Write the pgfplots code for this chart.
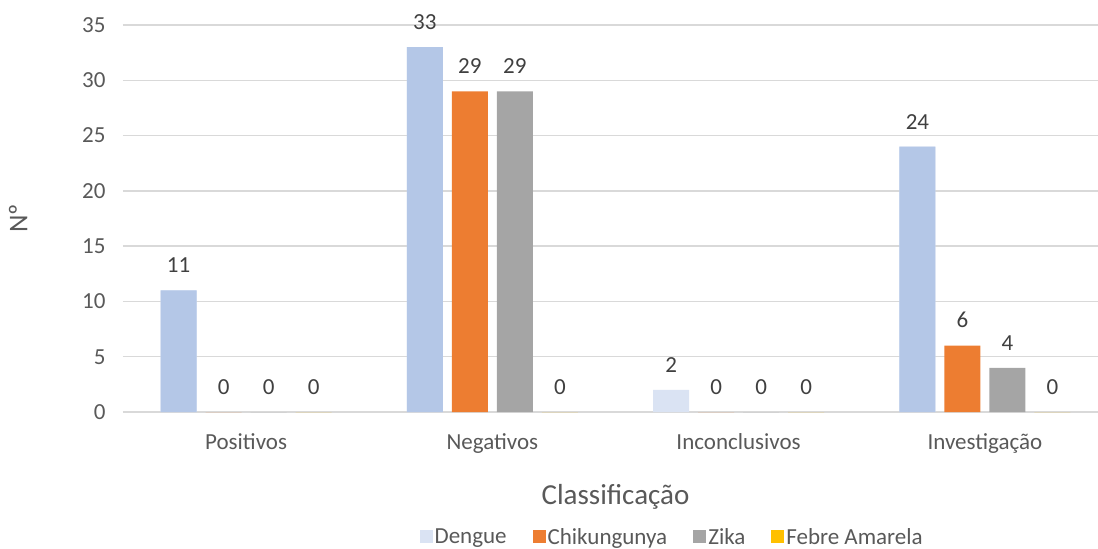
\documentclass[border=0pt]{standalone}
\usepackage{pgfplots}
\pgfplotsset{compat=1.18}
\usepackage{fontspec}
\setmainfont{Carlito}
\definecolor{dlight}{HTML}{DAE3F3}
\definecolor{ddark}{HTML}{B4C7E7}
\definecolor{corange}{HTML}{ED7D31}
\definecolor{cgray}{HTML}{A5A5A5}
\definecolor{cgold}{HTML}{FFC000}
\definecolor{tgray}{HTML}{595959}
\definecolor{lblc}{HTML}{404040}
\definecolor{gridc}{HTML}{D9D9D9}
\begin{document}
\begin{tikzpicture}
\useasboundingbox (-123pt,-137pt) rectangle (975pt,412pt);
\begin{axis}[
  at={(0,0)}, anchor=south west,
  scale only axis, width=985pt, height=387pt,
  ybar, bar width=0.146,
  xmin=-0.5, xmax=3.5, ymin=0, ymax=35,
  xtick={0,1,2,3},
  xticklabels={Positivos,Negativos,Inconclusivos,Investigação},
  ytick={0,5,...,35},
  xmajorgrids=false, ymajorgrids=true,
  major grid style={draw=gridc, line width=1.3pt},
  axis line style={draw=none},
  major tick length=0pt,
  tick label style={font=\fontsize{23}{26}\selectfont, text=tgray},
  /pgf/number format/assume math mode=true,
  xticklabel style={yshift=-18pt},
  yticklabel style={xshift=-14pt},
  xlabel={Classificação},
  xlabel style={font=\fontsize{29}{33}\selectfont, text=tgray, yshift=-24pt},
  ylabel={Nº},
  ylabel style={font=\fontsize{27}{31}\selectfont, text=tgray, yshift=48pt},
  nodes near coords,
  nodes near coords style={font=\fontsize{23}{26}\selectfont, text=lblc, yshift=14pt},
  legend style={at={(0.5575,-0.323)}, anchor=center, draw=none, legend columns=-1,
    font=\fontsize{23}{26}\selectfont, text=tgray,
    /tikz/every even column/.append style={column sep=24pt}},
  legend image code/.code={\fill[#1] (0pt,-6pt) rectangle (13pt,7pt);},
]
\addplot[fill=dlight, draw=none, bar shift=-0.274] coordinates {(0,11) (1,33) (2,2) (3,24)};
\addplot[fill=corange, draw=none, bar shift=-0.0914] coordinates {(0,0) (1,29) (2,0) (3,6)};
\addplot[fill=cgray, draw=none, bar shift=0.0914] coordinates {(0,0) (1,29) (2,0) (3,4)};
\addplot[fill=cgold, draw=none, bar shift=0.274] coordinates {(0,0) (1,0) (2,0) (3,0)};
\addplot[fill=ddark, draw=none, bar shift=-0.274, forget plot, nodes near coords={}] coordinates {(0,11) (1,33) (3,24)};
\legend{Dengue,Chikungunya,Zika,Febre Amarela}
\end{axis}
\end{tikzpicture}
\end{document}
